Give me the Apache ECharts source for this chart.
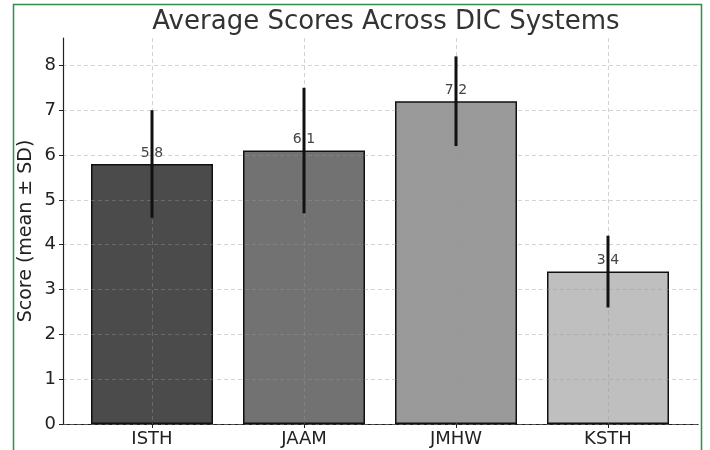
<!DOCTYPE html>
<html>
<head>
<meta charset="utf-8">
<script src="https://cdn.jsdelivr.net/npm/echarts@6/dist/echarts.min.js"></script>
<style>
  html, body { margin: 0; padding: 0; background: #fff; }
  #main { width: 710px; height: 450px; }
</style>
</head>
<body>
<div id="main"></div>
<script>
// data
var systems = ["ISTH", "JAAM", "JMHW", "KSTH"];
var means = [5.8, 6.1, 7.2, 3.4];
var sds = [1.2, 1.4, 1.0, 0.8];
var barColors = ["#4b4b4b", "#727272", "#9a9a9a", "#bfbfbf"];
var yTicks = [0, 1, 2, 3, 4, 5, 6, 7, 8];

var FONT = "DejaVu Sans";
var gridColor = "rgba(150, 150, 150, 0.42)";
var yMax = 8.61;

var myChart = echarts.init(document.getElementById("main"), null, { renderer: "canvas" });

var option = {
  backgroundColor: "#fff",
  animation: false,
  title: {
    text: "Average Scores Across DIC Systems",
    left: 381,
    textAlign: "center",
    top: 4,
    textStyle: { fontFamily: FONT, fontSize: 26, fontWeight: "normal", color: "#333" }
  },
  graphic: [
    {
      type: "rect",
      shape: { x: 13.5, y: 4.5, width: 688, height: 470 },
      style: { fill: "none", stroke: "#2f8f4a", lineWidth: 1.5 },
      silent: true
    }
  ],
  grid: [
    // outer frame: y axis + x axis line
    { left: 63, right: 12, top: 38, bottom: 26, outerBoundsMode: "none", containLabel: false },
    // category positions: one unit = 152px
    { left: 152, right: 102, top: 38, bottom: 26, outerBoundsMode: "none", containLabel: false }
  ],
  xAxis: [
    {
      gridIndex: 0,
      type: "value",
      min: 0,
      max: 1,
      axisLine: { show: true, lineStyle: { color: "#222", width: 1.2 } },
      axisTick: { show: false },
      axisLabel: { show: false },
      splitLine: { show: false }
    },
    {
      gridIndex: 1,
      type: "value",
      min: 0,
      max: 3,
      interval: 1,
      z: 3,
      axisLine: { show: false },
      axisTick: { show: true, length: 4, lineStyle: { color: "#222" } },
      axisLabel: {
        margin: 6,
        fontFamily: FONT,
        fontSize: 18,
        color: "#222",
        formatter: function (v) { return systems[Math.round(v)] || ""; }
      },
      splitLine: { show: true, lineStyle: { color: gridColor, type: [4, 3], width: 1 } }
    }
  ],
  yAxis: [
    {
      gridIndex: 0,
      type: "value",
      min: 0,
      max: yMax,
      interval: 1,
      z: 3,
      name: "Score (mean ± SD)",
      nameLocation: "middle",
      nameGap: 27,
      nameMoveOverlap: false,
      nameTextStyle: { fontFamily: FONT, fontSize: 19, color: "#222" },
      axisLine: { show: true, lineStyle: { color: "#222", width: 1.2 } },
      axisTick: { show: true, length: 4, customValues: yTicks, lineStyle: { color: "#222" } },
      axisLabel: {
        margin: 7,
        fontFamily: FONT,
        fontSize: 18,
        color: "#222",
        customValues: yTicks,
        formatter: function (v) { return Math.abs(v - Math.round(v)) < 1e-6 ? String(v) : ""; }
      },
      splitLine: {
        show: true,
        lineStyle: { color: gridColor, type: [4, 3], width: 1 }
      }
    },
    {
      gridIndex: 1,
      type: "value",
      min: 0,
      max: yMax,
      show: false
    }
  ],
  series: [
    {
      type: "bar",
      xAxisIndex: 1,
      yAxisIndex: 1,
      barWidth: 122,
      clip: false,
      z: 2,
      data: means.map(function (m, i) {
        return {
          value: [i, m],
          itemStyle: { color: barColors[i], borderColor: "#111", borderWidth: 1.5 }
        };
      }),
      label: {
        show: true,
        position: "top",
        distance: 4,
        fontFamily: FONT,
        fontSize: 14,
        color: "#444",
        formatter: function (p) { return p.value[1].toFixed(1); }
      }
    },
    {
      type: "custom",
      xAxisIndex: 1,
      yAxisIndex: 1,
      z: 5,
      clip: false,
      data: means.map(function (m, i) { return [i, m - sds[i], m + sds[i]]; }),
      renderItem: function (params, api) {
        var lo = api.coord([api.value(0), api.value(1)]);
        var hi = api.coord([api.value(0), api.value(2)]);
        return {
          type: "line",
          shape: { x1: lo[0], y1: lo[1], x2: hi[0], y2: hi[1] },
          style: { stroke: "#111", lineWidth: 3 }
        };
      }
    }
  ]
};

myChart.setOption(option);
</script>
</body>
</html>
